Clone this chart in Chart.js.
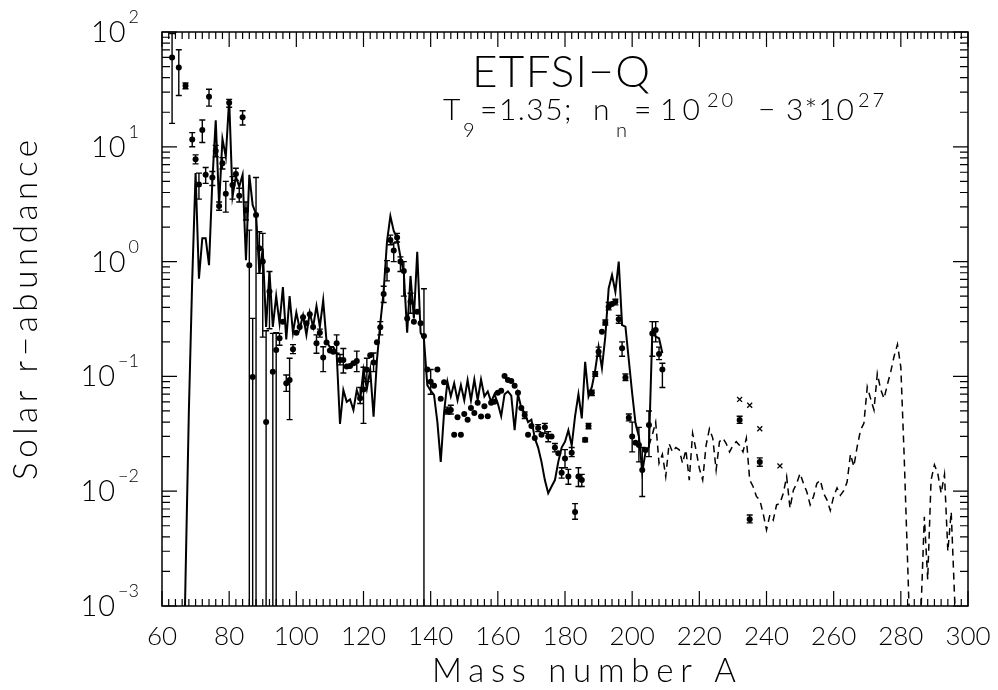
<!DOCTYPE html>
<html><head><meta charset="utf-8">
<script src="https://cdn.jsdelivr.net/npm/chart.js@4.4.1/dist/chart.umd.min.js"></script>
<style>html,body{margin:0;padding:0;background:#fff;}#wrap{width:998px;height:690px;}</style>
</head><body><div id="wrap"><canvas id="c" width="998" height="690"></canvas></div>
<script>
// ---------- DATA ----------
const xTickValues = [60,80,100,120,140,160,180,200,220,240,260,280,300];
const yTickPowers = [-3,-2,-1,0,1,2];

// observed solar r-abundances (mass, value, error low, error high)
const obsMass = [63,65,67,
 69,70,71,72,73,74,75,76,77,78,
 79,80,81,82,83,84,85,86,87,88,
 89,90,91,92,93,94,95,96,97,98,
 99,100,101,102,103,104,105,106,107,108,
 109,110,111,112,113,114,115,116,117,118,
 119,120,121,122,123,124,125,126,127,128,
 129,130,131,132,133,134,135,136,137,138,
 139,140,141,142,143,144,145,146,147,148,
 149,150,151,152,153,154,155,156,157,158,
 159,160,161,162,163,164,165,166,167,168,
 169,170,171,172,173,174,175,176,177,178,
 179,180,181,182,183,184,185,186,187,188,
 189,190,191,192,193,194,195,196,197,198,
 199,200,201,202,203,204,205,206,207,208,
 209,
 232,235,238];
const obsValue = [60,49,34,
 11.6,7.8,4.7,14.0,5.7,27.3,5.4,9.2,3.05,7.2,
 3.9,24.2,4.65,5.8,3.75,18.1,2.8,0.93,0.099,2.55,
 1.31,1.0,0.040,0.55,0.11,0.17,0.215,0.30,0.087,0.093,
 0.172,0.24,0.27,0.327,0.29,0.348,0.27,0.194,0.24,0.146,
 0.197,0.168,0.164,0.194,0.139,0.139,0.122,0.123,0.13,0.136,
 0.0644,0.077,0.114,0.153,0.132,0.198,0.268,0.523,0.845,1.54,
 1.25,1.62,1.0,0.83,0.32,0.448,0.299,0.366,0.29,0.225,
 0.115,0.09,0.083,0.115,0.064,0.089,0.050,0.051,0.031,0.044,
 0.031,0.047,0.042,0.053,0.048,0.059,0.0447,0.055,0.045,0.059,
 0.060,0.072,0.075,0.101,0.093,0.091,0.083,0.072,0.053,0.046,
 0.031,0.037,0.029,0.0355,0.031,0.036,0.030,0.030,0.024,0.0214,
 0.0145,0.0193,0.0134,0.0216,0.0066,0.0134,0.0125,0.028,0.037,0.072,
 0.105,0.164,0.245,0.294,0.405,0.427,0.448,0.314,0.176,0.098,
 0.0437,0.030,0.0264,0.0252,0.0153,0.0228,0.0377,0.237,0.254,0.157,
 0.115,
 0.0417,0.0057,0.018];
const obsLow = [16,28,32,
 10.0,7.1,3.5,10.9,4.8,22.6,4.6,8.2,2.8,6.4,
 2.7,22.1,3.5,5.1,3.3,15.5,2.3,0.0001,0.0001,0.0001,
 0.79,0.22,0.0001,0.26,0.0001,0.0001,0.187,null,0.074,0.042,
 0.158,null,null,null,null,null,null,0.159,0.22,0.11,
 null,null,null,0.159,0.126,0.107,null,null,null,0.11,
 0.058,0.039,0.09,null,0.11,null,0.23,0.44,0.68,1.4,
 1.0,1.48,0.82,0.5,null,0.355,null,null,null,0.0001,
 null,0.07,null,null,null,null,0.047,0.047,null,null,
 null,null,null,null,null,null,null,null,null,null,
 null,null,null,null,null,null,null,null,null,0.043,
 null,null,null,0.033,null,0.032,0.027,null,0.022,null,
 0.013,0.016,0.0115,0.02,0.0057,0.011,0.011,0.027,0.035,0.068,
 0.1,0.15,null,0.28,0.38,null,0.42,0.29,0.15,0.092,
 0.041,0.022,null,0.018,0.009,null,0.02,0.15,0.2,0.14,
 0.08,
 0.039,0.0053,0.0165];
const obsHigh = [97,70,36,
 13.3,8.5,5.9,17.1,6.6,31.7,6.1,10.3,3.3,8.05,
 5.0,25.9,5.5,6.5,4.35,20.6,3.3,1.88,0.32,5.4,
 1.82,1.76,0.25,0.82,0.237,0.24,0.237,null,0.103,0.144,
 0.189,null,null,null,null,null,null,0.23,0.258,0.181,
 null,null,null,0.23,0.155,0.175,null,null,null,0.166,
 0.08,0.12,0.144,null,0.16,null,0.3,0.61,1.02,1.7,
 1.45,1.76,1.1,1.0,null,0.53,null,null,null,0.58,
 null,0.115,null,null,null,null,0.054,0.056,null,null,
 null,null,null,null,null,null,null,null,null,null,
 null,null,null,null,null,null,null,null,null,0.049,
 null,null,null,0.038,null,0.039,0.033,null,0.026,null,
 0.016,0.023,0.0155,0.024,0.0078,0.016,0.014,0.029,0.039,0.076,
 0.11,0.18,null,0.31,0.44,null,0.47,0.34,0.2,0.105,
 0.047,0.04,null,0.036,0.024,null,0.05,0.3,0.3,0.18,
 0.13,
 0.045,0.0062,0.0195];

// actinide estimates (crosses)
const actMass = [232,235,238,244];
const actValue = [0.063,0.056,0.035,0.0166];

// calculated abundances, fitted region (solid)
const theoryMass = [66,67,68,69,70,71,72,73,74,75,
 76,77,78,79,80,81,82,83,84,85,
 86,87,88,89,90,91,92,93,94,95,
 96,97,98,99,100,101,102,103,104,105,
 106,107,108,109,110,111,112,113,114,115,
 116,117,118,119,120,121,122,123,124,125,
 126,127,128,129,130,131,132,133,134,135,
 136,137,138,139,140,141,142,143,144,145,
 146,147,148,149,150,151,152,153,154,155,
 156,157,158,159,160,161,162,163,164,165,
 166,167,168,169,170,171,172,173,174,175,
 176,177,178,179,180,181,182,183,184,185,
 186,187,188,189,190,191,192,193,194,195,
 196,197,198,199,200,201,202,203,204,205,
 206,207,208,209];
const theoryValue = [0.00005,0.0017,0.05,0.7,5.9,0.71,1.6,1.6,0.93,5.1,
 17,3.1,11.7,8.2,26,3.7,5.5,4.5,5.7,1.03,
 5.7,3.1,2.6,0.79,1.3,0.27,0.82,0.27,0.5,0.29,
 0.6,0.21,0.5,0.24,0.36,0.26,0.34,0.23,0.36,0.27,
 0.41,0.27,0.46,0.2,0.18,0.18,0.16,0.0385,0.076,0.06,
 0.063,0.051,0.076,0.062,0.114,0.078,0.114,0.0446,0.139,0.29,
 0.55,1.5,2.49,1.85,1.6,1.1,0.8,0.24,0.75,0.32,
 1.22,0.24,0.21,0.084,0.075,0.069,0.04,0.018,0.049,0.09,
 0.067,0.087,0.062,0.084,0.062,0.093,0.062,0.094,0.062,0.094,
 0.067,0.074,0.06,0.07,0.058,0.045,0.07,0.074,0.068,0.034,
 0.07,0.053,0.048,0.04,0.042,0.029,0.024,0.018,0.0125,0.0096,
 0.011,0.0125,0.018,0.024,0.027,0.034,0.025,0.045,0.07,0.043,
 0.134,0.067,0.081,0.114,0.181,0.118,0.222,0.585,0.763,0.546,
 1.0,0.28,0.271,0.139,0.0713,0.039,0.030,0.0148,0.022,0.0244,
 0.245,0.222,0.215,0.159];

// calculated abundances, extrapolated region (dashed)
const extMass = [205,206,207,208,209,210,211,212,213,214,
 215,216,217,218,219,220,221,222,223,224,
 225,226,227,228,229,230,231,232,233,234,
 235,236,237,238,239,240,241,242,243,244,
 245,246,247,248,249,250,251,252,253,254,
 255,256,257,258,259,260,261,262,263,264,
 265,266,267,268,269,270,271,272,273,274,
 275,276,277,278,279,280,281,282,283,284,
 285,286,287,288,289,290,291,292,293,294,295,296,297];
const extValue = [0.025,0.031,0.04,0.0175,0.021,0.0134,0.026,0.022,0.024,0.023,
 0.0175,0.0229,0.0125,0.032,0.023,0.0158,0.0125,0.025,0.035,0.029,
 0.0153,0.027,0.029,0.026,0.022,0.025,0.027,0.025,0.022,0.029,
 0.0125,0.011,0.009,0.0084,0.0064,0.0046,0.0062,0.0056,0.0076,0.0078,
 0.0096,0.0134,0.0071,0.0102,0.0117,0.0143,0.0117,0.0099,0.0076,0.009,
 0.0117,0.0125,0.0096,0.0084,0.0068,0.009,0.0107,0.0092,0.0101,0.012,
 0.021,0.0164,0.0244,0.034,0.039,0.081,0.064,0.051,0.106,0.077,
 0.064,0.085,0.11,0.15,0.19,0.12,0.02,0.0025,0.0003,0.0002,
 0.0002,0.0009,0.006,0.0017,0.0125,0.017,0.0143,0.0096,0.014,0.003,0.0066,0.0012,0.0002];

// ---------- TEXT ----------
const titleText = 'ETFSI\u2212Q';
const xTitle = 'Mass number A';
const yTitle = 'Solar r\u2212abundance';

const FONT = 'Lato, "DejaVu Sans", sans-serif';

function pts(xs, ys){ return xs.map((m,i)=>({x:m, y:ys[i]})); }

function drawText(ctx, text, x, y, font, spacing){
  ctx.font = font;
  const has = 'letterSpacing' in ctx;
  if (has) ctx.letterSpacing = (spacing || 0) + 'px';
  ctx.textAlign = 'left';
  ctx.fillText(text, x, y);
  if (has) ctx.letterSpacing = '0px';
}
function drawSpan(ctx, text, x, y, font, width){
  ctx.font = font;
  const has = 'letterSpacing' in ctx;
  if (has) ctx.letterSpacing = '0px';
  const w0 = ctx.measureText(text).width;
  const n = [...text].length;
  const sp = (has && n > 1) ? Math.max(0, (width - w0)/(n-1)) : 0;
  drawText(ctx, text, x, y, font, sp);
}

const errorBars = {
  id:'errorBars',
  beforeDatasetsDraw(chart){
    const {ctx, chartArea:a, scales:{x,y}} = chart;
    ctx.save();
    ctx.beginPath(); ctx.rect(a.left, a.top, a.right-a.left, a.bottom-a.top); ctx.clip();
    ctx.strokeStyle = '#000'; ctx.lineWidth = 1.4;
    obsMass.forEach((m,i)=>{
      const lo = obsLow[i], hi = obsHigh[i];
      if (lo == null || hi == null) return;
      const px = x.getPixelForValue(m);
      const pl = y.getPixelForValue(lo), ph = y.getPixelForValue(hi);
      ctx.beginPath();
      ctx.moveTo(px, pl); ctx.lineTo(px, ph);
      ctx.moveTo(px-3, ph); ctx.lineTo(px+3, ph);
      if (lo >= y.min) { ctx.moveTo(px-3, pl); ctx.lineTo(px+3, pl); }
      ctx.stroke();
    });
    ctx.restore();
  }
};

const frameAndText = {
  id:'frameAndText',
  afterDraw(chart){
    const {ctx, chartArea:a, scales:{x,y}} = chart;
    ctx.save();
    ctx.strokeStyle = '#000'; ctx.lineWidth = 1.5;
    ctx.strokeRect(a.left, a.top, a.right-a.left, a.bottom-a.top);
    ctx.lineWidth = 1.2;
    ctx.beginPath();
    for (let v = x.min; v <= x.max; v += 2){
      const px = x.getPixelForValue(v);
      const len = (v % 20 === 0) ? 15 : 7;
      ctx.moveTo(px, a.bottom); ctx.lineTo(px, a.bottom - len);
      ctx.moveTo(px, a.top); ctx.lineTo(px, a.top + len);
    }
    for (let p = -3; p <= 2; p++){
      for (let k = 1; k <= 9; k++){
        const v = k * Math.pow(10, p);
        if (v > y.max * 1.0001) break;
        const py = y.getPixelForValue(v);
        const len = (k === 1) ? 15 : 8;
        ctx.moveTo(a.left, py); ctx.lineTo(a.left + len, py);
        ctx.moveTo(a.right, py); ctx.lineTo(a.right - len, py);
      }
    }
    ctx.stroke();

    ctx.fillStyle = '#000';
    ctx.textBaseline = 'alphabetic';
    yTickPowers.forEach(p=>{
      const py = y.getPixelForValue(Math.pow(10,p));
      const e = (p < 0 ? '\u2212' : '') + Math.abs(p);
      ctx.font = '300 18px ' + FONT;
      const we = ctx.measureText(e).width;
      const xe = 139 - we;
      ctx.textAlign = 'left';
      ctx.fillText(e, xe, py - 9);
      ctx.font = '300 29px ' + FONT;
      if ('letterSpacing' in ctx) ctx.letterSpacing = '1px';
      ctx.textAlign = 'right';
      ctx.fillText('10', xe - 2, py + 10);
      if ('letterSpacing' in ctx) ctx.letterSpacing = '0px';
    });

    drawSpan(ctx, titleText, 472, 87, '300 44px ' + FONT, 178);
    const big = '300 30px ' + FONT, small = '300 20px ' + FONT;
    drawText(ctx, 'T', 443, 120, big);
    drawText(ctx, '9', 463, 137, small);
    drawText(ctx, '=1.35;', 480, 120, big, 1.5);
    drawText(ctx, 'n', 593, 120, big);
    drawText(ctx, 'n', 616, 137, small);
    drawText(ctx, '=', 634, 120, big, 0);
    drawText(ctx, '10', 660, 120, big, 5);
    drawText(ctx, '20', 707, 107, small, 3);
    drawText(ctx, '\u2212', 758, 120, big);
    drawText(ctx, '3*10', 786, 120, big, 1);
    drawText(ctx, '27', 858, 107, small, 3);

    drawSpan(ctx, xTitle, 432, 682, '300 33px ' + FONT, 304);
    ctx.save();
    ctx.translate(37, 310);
    ctx.rotate(-Math.PI/2);
    drawSpan(ctx, yTitle, -170, 0, '300 33px ' + FONT, 340);
    ctx.restore();
    ctx.restore();
  }
};

new Chart(document.getElementById('c'), {
  type: 'scatter',
  data: {
    datasets: [
      { label:'calc', data: pts(theoryMass, theoryValue), showLine:true, borderColor:'#000',
        borderWidth:2, pointRadius:0, tension:0, fill:false, order:3 },
      { label:'calc ext', data: pts(extMass, extValue), showLine:true, borderColor:'#000',
        borderWidth:1.5, borderDash:[7,5], pointRadius:0, tension:0, fill:false, order:4 },
      { label:'solar', data: pts(obsMass, obsValue), showLine:false, pointRadius:3,
        pointStyle:'circle', backgroundColor:'#000', borderColor:'#000', borderWidth:0, order:1 },
      { label:'actinides', data: pts(actMass, actValue), showLine:false, pointRadius:3.5,
        pointStyle:'crossRot', borderColor:'#000', borderWidth:1.3, order:2 }
    ]
  },
  options: {
    responsive:false, animation:false, devicePixelRatio:1,
    layout:{ padding:{ top:32, right:30, left:0, bottom:0 } },
    plugins:{ legend:{display:false}, tooltip:{enabled:false}, title:{display:false} },
    scales:{
      x:{ type:'linear', min:60, max:300,
          grid:{display:false, drawTicks:false}, border:{display:false},
          afterBuildTicks(s){ s.ticks = xTickValues.map(v=>({value:v})); },
          ticks:{ autoSkip:false, maxRotation:0, padding:15, color:'#000',
                  font:{family:FONT, size:26, weight:300} },
          afterFit(s){ s.height = 84; s.paddingLeft = 0; s.paddingRight = 0; } },
      y:{ type:'logarithmic', min:1e-3, max:100,
          grid:{display:false, drawTicks:false}, border:{display:false},
          ticks:{ display:false },
          afterFit(s){ s.width = 162; s.paddingTop = 0; s.paddingBottom = 0; } }
    }
  },
  plugins:[errorBars, frameAndText]
});
</script>
</body></html>
